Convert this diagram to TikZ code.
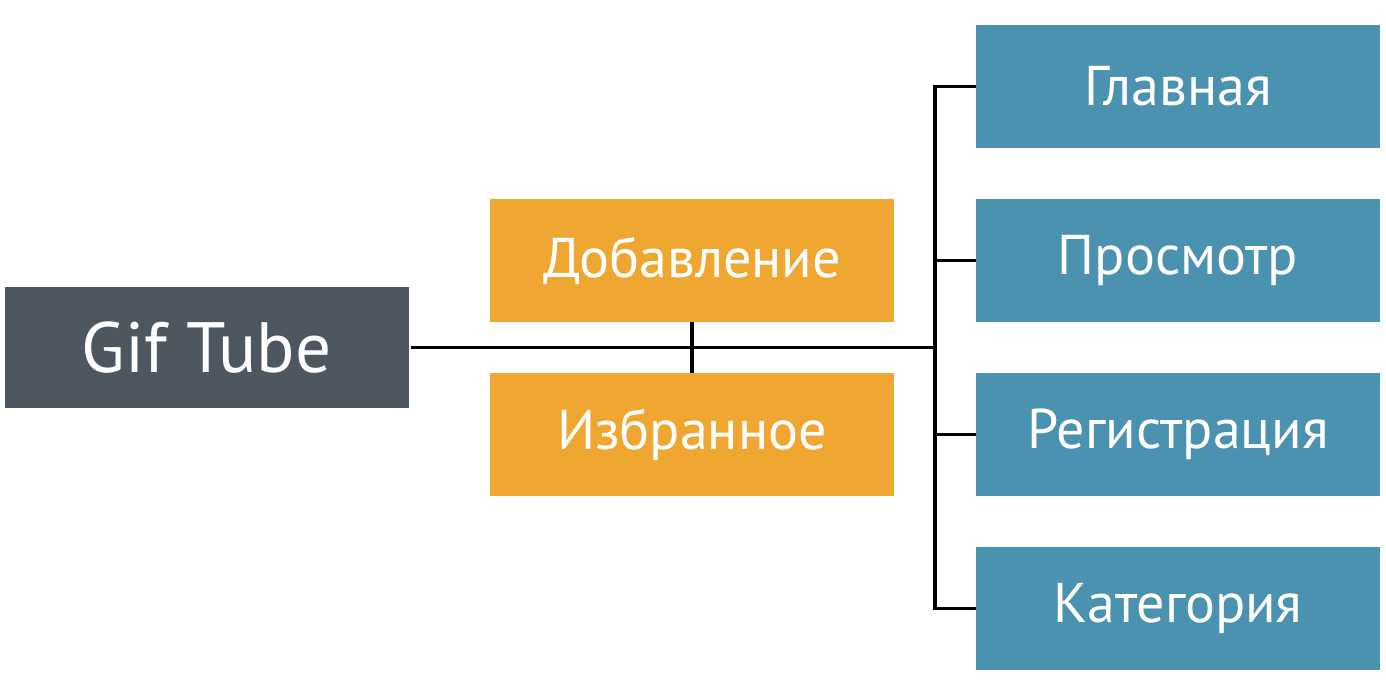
\documentclass[tikz,border=0pt]{standalone}
\usepackage{fontspec}
\setmainfont{PT Sans}
\definecolor{rootgray}{HTML}{4E5760}
\definecolor{midorange}{HTML}{F0A731}
\definecolor{leafblue}{HTML}{4B92B0}
\begin{document}
\begin{tikzpicture}[x=0.5pt,y=-0.5pt,
  box/.style={draw=none,minimum width=202pt,minimum height=61.5pt,inner sep=0pt,text=white,font=\fontsize{28}{33}\selectfont},
  rootbox/.style={box,fill=rootgray,font=\fontsize{35.6}{42}\selectfont,minimum height=60.5pt},
  midbox/.style={box,fill=midorange},
  leafbox/.style={box,fill=leafblue},
  link/.style={line width=1.7pt,black}]
\useasboundingbox (0,0) rectangle (1386,685);
\node[rootbox] (root) at (206.5,347.5) {Gif Tube};
\node[midbox] (add) at (692,260.5) {Добавление};
\node[midbox] (fav) at (692,434.5) {Избранное};
\node[leafbox] (main) at (1178,86.5) {Главная};
\node[leafbox] (view) at (1178,260.5) {Просмотр};
\node[leafbox] (reg) at (1178,434.5) {Регистрация};
\node[leafbox] (cat) at (1178,608.5) {Категория};
\coordinate (bus) at (935,347.5);
\draw[link] (root.east) ++(2,0) -- (bus);
\draw[link] (add.south) -- (fav.north);
\draw[link] (main.west) -| (bus);
\draw[link] (cat.west) -| (bus);
\draw[link] (view.west) -- (view.west -| bus);
\draw[link] (reg.west) -- (reg.west -| bus);
\end{tikzpicture}
\end{document}
